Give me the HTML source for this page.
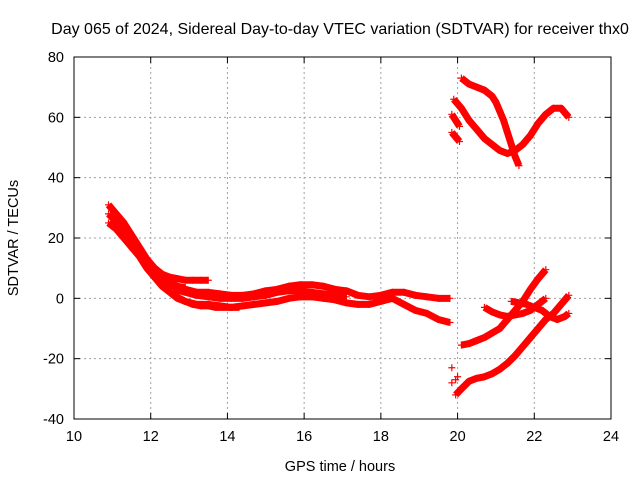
<!DOCTYPE html>
<html><head><meta charset="utf-8"><style>
body{margin:0;background:#fff}
svg{display:block;font-family:"Liberation Sans",sans-serif}
</style></head><body>
<svg id="chart" width="640" height="480" viewBox="0 0 640 480" xmlns="http://www.w3.org/2000/svg">
<rect width="640" height="480" fill="#fff"/>
<text x="340" y="34" text-anchor="middle" font-size="16">Day 065 of 2024, Sidereal Day-to-day VTEC variation (SDTVAR) for receiver thx0</text>
<g id="grid"></g>
<g id="marks"></g>
<rect x="74" y="57" width="537" height="362" fill="none" stroke="#000" stroke-width="1"/>
<g id="ticks"></g>
<text x="340" y="471" text-anchor="middle" font-size="14.5">GPS time / hours</text>
<text transform="translate(18,238) rotate(-90)" text-anchor="middle" font-size="14.5">SDTVAR / TECUs</text>
</svg>
<script>
const xTicks=[10,12,14,16,18,20,22,24];
const yTicks=[-40,-20,0,20,40,60,80];
const s1x=[10.9,11.1,11.3,11.5,11.7,11.9,12.1,12.3,12.5,12.7,12.9,13.1,13.3,13.5];
const s1y=[31,28,25,21,17,13,10,8,7,6.5,6,6,6,6];
const s6x=[10.9,11.1,11.3,11.5,11.7,11.9,12.1,12.3,12.5,12.7,12.9];
const s6y=[28,25.5,23,19.5,16,12,9,6.5,5,4,3.5];
const s2x=[10.9,11.1,11.3,11.5,11.7,11.9,12.1,12.3,12.5,12.7,12.9,13.1,13.3,13.5,13.7,13.9,14.1,14.3];
const s2y=[25,23,20,17,14,10,7,4,2,0,-1,-2,-2.5,-2.5,-3,-3,-3,-3];
const s3x=[12.3,12.6,12.9,13.2,13.5,13.8,14.1,14.4,14.7,15.0,15.3,15.6,15.9,16.2,16.5,16.8,17.1,17.4,17.7,18.0,18.3,18.6,18.9,19.2,19.5,19.8];
const s3y=[5,4,3,2,2,1.5,1,1,1.5,2.5,3,4,4.5,4.5,4,3,2.5,1,0.5,1,2,2,1,0.5,0,0];
const s4x=[12.6,12.9,13.2,13.5,13.8,14.1,14.4,14.7,15.0,15.3,15.6,15.9,16.2,16.5,16.8,17.1,17.4,17.7,18.0,18.3,18.6,18.9,19.2,19.5,19.8];
const s4y=[1,-1,-2,-2,-2.5,-3,-2.5,-2,-1.5,-1,0,0.5,0.5,0,-0.5,-1.5,-2,-2,-1,0,-2,-4,-5,-7,-8];
const s5x=[12.6,12.9,13.2,13.5,13.8,14.1,14.4,14.7,15.0,15.3,15.6,15.9,16.2,16.5,16.8,17.1];
const s5y=[3,2,1,0.5,0,0,0,0.5,1,2,2.5,2.5,2,1.5,1,0.5];
const t1x=[20.1,20.3,20.5,20.7,20.9,21.0,21.1,21.2,21.3,21.4,21.5,21.6];
const t1y=[73,71,70,69,67,65,62,59,55,51,47,44];
const t2x=[19.9,20.1,20.3,20.5,20.7,20.9,21.1,21.3,21.5,21.7,21.9,22.1,22.3,22.5,22.7,22.9];
const t2y=[66,63,59,56,53,51,49,48,49,51,54,58,61,63,63,60];
const t3x=[19.85,19.95,20.05];
const t3y=[61,59,57];
const t4x=[19.85,19.95,20.05];
const t4y=[55,53.5,52];
const b1x=[20.1,20.3,20.5,20.7,20.9,21.1,21.3,21.5,21.7,21.9,22.1,22.3];
const b1y=[-15.5,-15,-14,-13,-11.5,-10,-7,-4,-1,3,6.5,9.5];
const b2x=[20.7,20.9,21.1,21.3,21.5,21.7,21.9,22.1,22.3];
const b2y=[-3,-4.5,-5.5,-6,-5.5,-5,-4,-2,0];
const b3x=[21.4,21.6,21.8,22.0,22.2,22.4,22.6,22.8,22.9];
const b3y=[-1,-1.5,-2,-3,-4,-6,-7,-6,-5];
const b4x=[19.95,20.1,20.3,20.5,20.7,20.9,21.1,21.3,21.5,21.7,21.9,22.1,22.3,22.5,22.7,22.9];
const b4y=[-32,-30,-27.5,-26.5,-26,-25,-23.5,-21.5,-19,-16,-13,-10,-7,-5,-2,1];
const ptx=[19.85,19.85,19.95,20.0];
const pty=[-23,-28,-27,-26];
const seriesList=[[s1x,s1y],[s6x,s6y],[s2x,s2y],[s3x,s3y],[s4x,s4y],[s5x,s5y],[t1x,t1y],[t2x,t2y],[t3x,t3y],[t4x,t4y],[b1x,b1y],[b2x,b2y],[b3x,b3y],[b4x,b4y]];
const NS="http://www.w3.org/2000/svg";
const L=74,R=611,T=57,B=419;
function xs(v){return L+(v-10)/(24-10)*(R-L);}
function ys(v){return B-(v+40)/120*(B-T);}
const grid=document.getElementById('grid'),ticks=document.getElementById('ticks'),marks=document.getElementById('marks');
function mk(tag,attrs,parent){const e=document.createElementNS(NS,tag);for(const k in attrs)e.setAttribute(k,attrs[k]);parent.appendChild(e);return e;}
xTicks.forEach(v=>{const x=xs(v);
 if(v>10&&v<24){const g=mk('line',{x1:x,y1:T,x2:x,y2:B,stroke:'#a0a0a0','stroke-dasharray':'2,3'},grid);}
 mk('line',{x1:x,y1:B,x2:x,y2:B-6,stroke:'#000'},ticks);mk('line',{x1:x,y1:T,x2:x,y2:T+6,stroke:'#000'},ticks);
 const t=mk('text',{x:x,y:B+22,'text-anchor':'middle','font-size':'14.5'},ticks);t.textContent=v;
 });
yTicks.forEach(v=>{const y=ys(v);
 if(v>-40&&v<80){const g=mk('line',{x1:L,y1:y,x2:R,y2:y,stroke:'#a0a0a0','stroke-dasharray':'2,3'},grid);}
 mk('line',{x1:L,y1:y,x2:L+6,y2:y,stroke:'#000'},ticks);mk('line',{x1:R,y1:y,x2:R-6,y2:y,stroke:'#000'},ticks);
 const t=mk('text',{x:L-10,y:y+5,'text-anchor':'end','font-size':'14.5'},ticks);t.textContent=v;
 });
function plus(x,y,g){mk('path',{d:`M${x-3.5},${y}h7M${x},${y-3.5}v7`,stroke:'#f00','stroke-width':'1.2',fill:'none'},g);}
seriesList.forEach(([X,Y])=>{
 const g=mk('g',{},marks);
 
 
 if(X.length>1){mk('polyline',{points:X.map((v,i)=>xs(v)+','+ys(Y[i])).join(' '),fill:'none',stroke:'#f00','stroke-width':'7','stroke-linejoin':'round'},g);}
 X.forEach((v,i)=>plus(xs(v),ys(Y[i]),g));
});
const pg=mk('g',{},marks);


ptx.forEach((v,i)=>plus(xs(v),ys(pty[i]),pg));
</script>
</body></html>
